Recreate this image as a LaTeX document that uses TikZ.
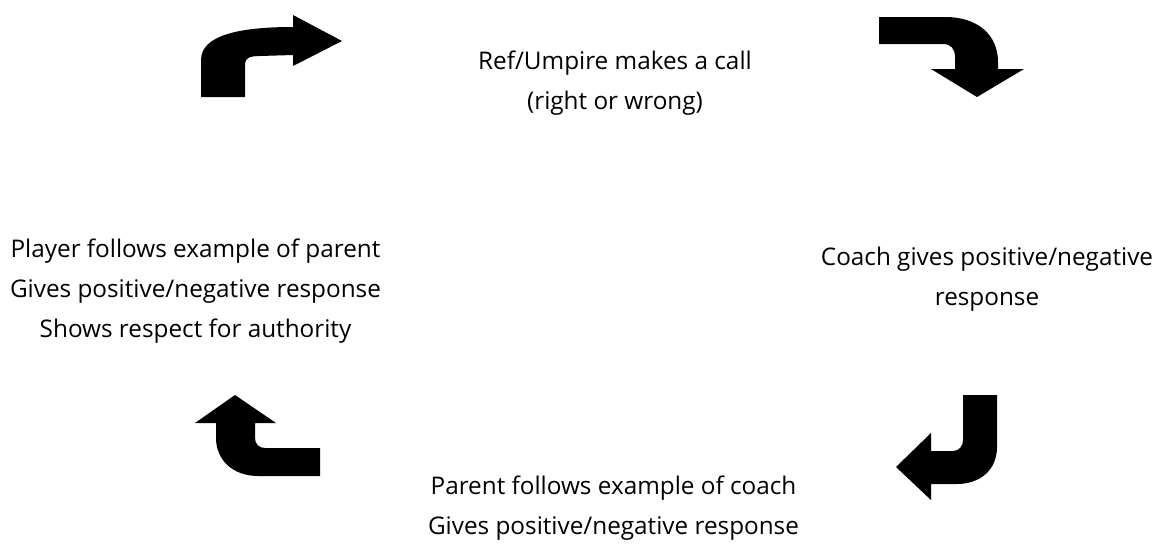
\documentclass[tikz,border=0pt]{standalone}
\usepackage{fontspec}
\setmainfont{Open Sans}
\begin{document}
\begin{tikzpicture}[x=1pt,y=-1pt,
  lbl/.style={align=center,inner sep=0pt,font=\fontsize{24.3}{40}\selectfont},
  bentarrow/.style={fill=black,draw=none}]
\useasboundingbox (0,0) rectangle (1160,546);
% text blocks
\node[lbl] (ref) at (615,83) {Ref/Umpire makes a call\\(right or wrong)};
\node[lbl] (coach) at (987,279) {Coach gives positive/negative\\response};
\node[lbl] (parent) at (613.5,508) {Parent follows example of coach\\Gives positive/negative response};
\node[lbl] (player) at (195.5,291) {Player follows example of parent\\Gives positive/negative response\\Shows respect for authority};
% arrow 1 (top left, bent right)
\fill[bentarrow] (201,97) -- (201,60) .. controls (201,35) and (240,27) .. (293,27)
  -- (293,15) -- (342,41) -- (293,66) -- (293,55) -- (260,56)
  .. controls (250,56) and (245,58) .. (245,64) -- (245,97) -- cycle;
% arrow 2 (top right, bent down)
\fill[bentarrow] (879,17) -- (945,17) .. controls (978,17) and (998,35) .. (998,62)
  -- (998,69) -- (1024,69) -- (977,97) -- (931,69) -- (955,69) -- (955,57)
  .. controls (955,49) and (951,44) .. (943,44) -- (879,44) -- cycle;
% arrow 3 (bottom right, bent left)
\fill[bentarrow] (963,395) -- (997,395) -- (997,447) .. controls (997,470) and (980,484) .. (957,484)
  -- (931,484) -- (931,500) -- (896,467) -- (931,433) -- (931,451) -- (953,451)
  .. controls (959,451) and (963,446) .. (963,440) -- cycle;
% arrow 4 (bottom left, bent up)
\fill[bentarrow] (320,448) -- (320,476) -- (258,476) .. controls (233,476) and (216,460) .. (216,438)
  -- (216,423) -- (195,423) -- (235,395) -- (276,423) -- (255,423) -- (255,438)
  .. controls (255,444) and (259,448) .. (265,448) -- cycle;
\end{tikzpicture}
\end{document}
